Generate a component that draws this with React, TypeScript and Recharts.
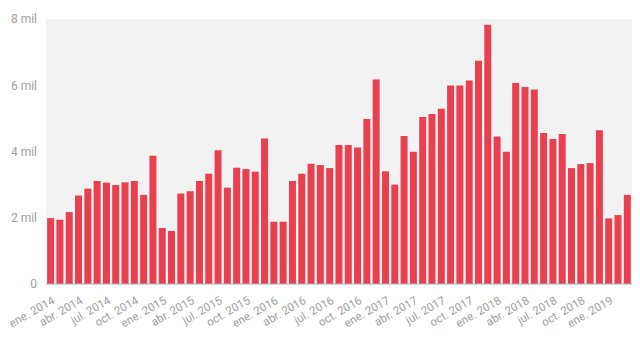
import React from "react";
import { BarChart, Bar, XAxis, YAxis, CartesianGrid } from "recharts";

const monthNames = ["ene.", "feb.", "mar.", "abr.", "may.", "jun.", "jul.", "ago.", "sep.", "oct.", "nov.", "dic."];
const years = [2014, 2015, 2016, 2017, 2018, 2019];

const values2014 = [1990, 1940, 2170, 2670, 2880, 3110, 3060, 2990, 3070, 3110, 2690, 3870];
const values2015 = [1690, 1600, 2730, 2800, 3110, 3330, 4040, 2910, 3510, 3470, 3390, 4390];
const values2016 = [1880, 1880, 3110, 3330, 3630, 3590, 3500, 4200, 4200, 4120, 4980, 6170];
const values2017 = [3400, 3000, 4470, 3990, 5040, 5130, 5290, 5990, 5990, 6140, 6740, 7830];
const values2018 = [4450, 3990, 6070, 5950, 5870, 4560, 4380, 4530, 3500, 3620, 3650, 4640];
const values2019 = [1980, 2080, 2690];

const yTicks = [0, 2000, 4000, 6000, 8000];

const allValues = [values2014, values2015, values2016, values2017, values2018, values2019];
const data = allValues.flatMap((vals, yi) =>
  vals.map((v, mi) => ({ label: `${monthNames[mi]} ${years[yi]}`, value: v }))
);

const formatY = (v: number) => (v === 0 ? "0" : `${v / 1000} mil`);

const XTick = (props: any) => {
  const { x, y, payload } = props;
  return (
    <g transform={`translate(${x},${y})`}>
      <text x={0} y={0} dy={10} textAnchor="end" transform="rotate(-30)" fill="#a0a0a0" fontSize={11.5} fontFamily="Roboto">
        {payload.value}
      </text>
    </g>
  );
};

export default function App() {
  return (
    <div style={{ position: "absolute", left: 0, top: 0, width: 640, height: 338, background: "#fff" }}>
      <BarChart width={640} height={338} data={data} margin={{ top: 19, right: 8, bottom: 0, left: 0 }} barCategoryGap="12%">
        <CartesianGrid fill="#f2f2f2" horizontal={false} vertical={false} stroke="none" />
        <XAxis
          dataKey="label"
          interval={2}
          tickLine={false}
          axisLine={{ stroke: "#a8aebb" }}
          tick={<XTick />}
          height={54}
          tickMargin={4}
        />
        <YAxis
          ticks={yTicks}
          domain={[0, 8000]}
          tickFormatter={formatY}
          axisLine={false}
          tickLine={false}
          width={46}
          tickSize={6}
          tickMargin={3}
          tick={{ fill: "#a0a0a0", fontSize: 12, fontFamily: "Roboto" }}
        />
        <Bar dataKey="value" fill="#e8404f" isAnimationActive={false} />
      </BarChart>
    </div>
  );
}
